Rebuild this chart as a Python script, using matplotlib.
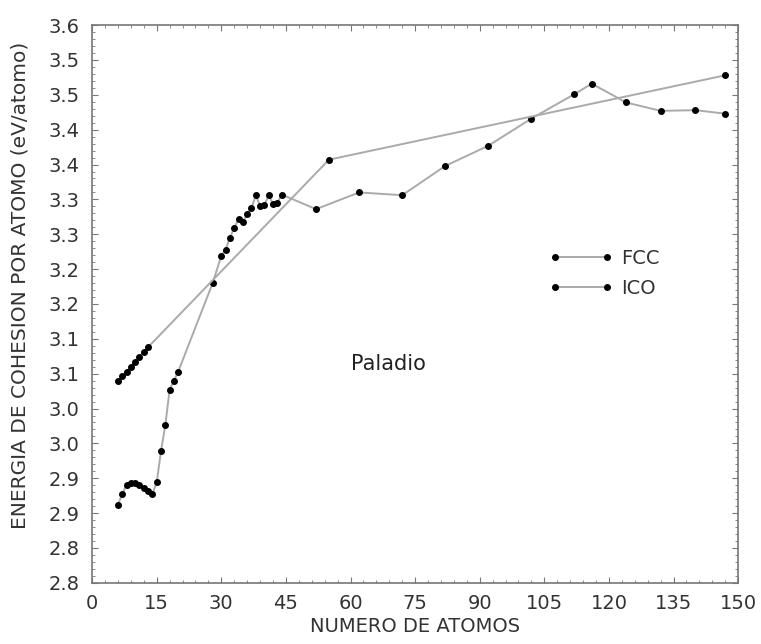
#!/usr/bin/env python3
"""Energia de cohesion por atomo vs numero de atomos (Paladio, FCC vs ICO)."""

import matplotlib
matplotlib.use('Agg')
import matplotlib.pyplot as plt
from matplotlib.ticker import MultipleLocator

# FCC series
fcc_n = [6, 7, 8, 9, 10, 11, 12, 13, 14, 15, 16, 17, 18, 19, 20,
         28, 30, 31, 32, 33, 34, 35, 36, 37, 38, 39, 40, 41, 42, 43, 44,
         52, 62, 72, 82, 92, 102, 112, 116, 124, 132, 140, 147]
fcc_e = [2.912, 2.927, 2.941, 2.943, 2.943, 2.940, 2.936, 2.932, 2.928, 2.944,
         2.989, 3.026, 3.077, 3.090, 3.103,
         3.230, 3.269, 3.278, 3.295, 3.309, 3.322, 3.317, 3.329, 3.337, 3.356,
         3.341, 3.342, 3.356, 3.343, 3.345, 3.357,
         3.336, 3.360, 3.356, 3.398, 3.427, 3.466, 3.501, 3.516, 3.489, 3.477,
         3.478, 3.473]

# ICO series
ico_n = [6, 7, 8, 9, 10, 11, 12, 13, 55, 147]
ico_e = [3.089, 3.096, 3.103, 3.110, 3.117, 3.124, 3.131, 3.138, 3.407, 3.528]

y_ticks = [2.80, 2.85, 2.90, 2.95, 3.00, 3.05, 3.10, 3.15, 3.20, 3.25,
           3.30, 3.35, 3.40, 3.45, 3.50, 3.55, 3.60]
y_tick_labels = ['2.8', '2.8', '2.9', '2.9', '3.0', '3.0', '3.1', '3.1', '3.2',
                 '3.2', '3.3', '3.3', '3.4', '3.4', '3.5', '3.5', '3.6']
x_ticks = [0, 15, 30, 45, 60, 75, 90, 105, 120, 135, 150]

plt.rcParams['font.family'] = ['DejaVu Sans']

fig = plt.figure(figsize=(7.61, 6.44), dpi=100)
ax = fig.add_axes([0.121, 0.095, 0.849, 0.866])

line_kw = dict(color='#aaaaaa', linewidth=1.4, marker='o', markersize=4,
               markerfacecolor='black', markeredgecolor='black')
ax.plot(fcc_n, fcc_e, label='FCC', **line_kw)
ax.plot(ico_n, ico_e, label='ICO', **line_kw)

ax.set_xlim(0, 150)
ax.set_ylim(2.8, 3.6)
ax.set_xticks(x_ticks)
ax.set_xticklabels([str(t) for t in x_ticks])
ax.set_yticks(y_ticks)
ax.set_yticklabels(y_tick_labels)
ax.xaxis.set_minor_locator(MultipleLocator(3))
ax.yaxis.set_minor_locator(MultipleLocator(0.01))

ax.tick_params(which='both', direction='in', top=True, right=True,
               colors='#777777', labelcolor='#333333')
ax.tick_params(which='major', length=4, width=0.8, labelsize=14)
ax.tick_params(axis='x', which='major', pad=8)
ax.tick_params(axis='y', which='major', pad=9)
ax.tick_params(which='minor', length=2, width=0.6)
for s in ax.spines.values():
    s.set_color('#777777')
    s.set_linewidth(1.2)

ax.set_xlabel('NUMERO DE ATOMOS', fontsize=14, color='#333333', labelpad=3)
fig.text(20 / 761, 1 - 285 / 644, 'ENERGIA DE COHESION POR ATOMO (eV/atomo)',
         rotation=90, ha='center', va='center', fontsize=14.5, color='#333333')

ax.text(68.7, 3.114, 'Paladio', ha='center', va='center', fontsize=15,
        color='#222222')

ax.legend(loc='upper left', bbox_to_anchor=(0.68, 0.63), frameon=False,
          numpoints=2, handlelength=3.3, handletextpad=0.4, labelspacing=0.55,
          fontsize=14, labelcolor='#333333')

fig.savefig('out.png', dpi=100)
